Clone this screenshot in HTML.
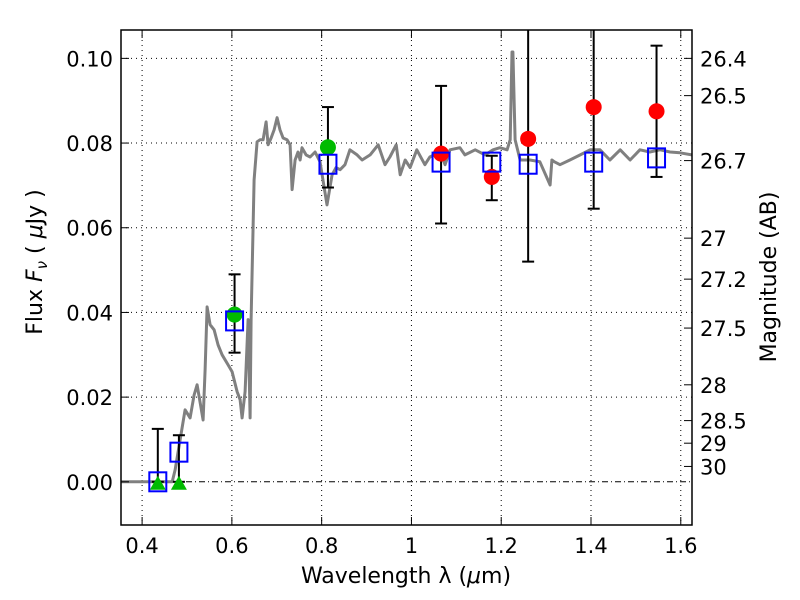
<!DOCTYPE html>
<html><head><meta charset="utf-8">
<style>
html,body{margin:0;padding:0;background:#fff;}
svg{display:block;font-family:"DejaVu Sans","Liberation Sans",sans-serif;}
</style></head>
<body>
<svg id="chart" width="800" height="600" viewBox="0 0 800 600" xmlns="http://www.w3.org/2000/svg">
<defs><clipPath id="plotclip"><rect x="121" y="30" width="571" height="495"/></clipPath></defs>
<rect x="0" y="0" width="800" height="600" fill="#fff"/>
<g id="grid"></g>
<g id="spec" clip-path="url(#plotclip)"></g>
<g id="marks" clip-path="url(#plotclip)"></g>
<g id="axes"></g>
<text x="406" y="583" font-size="22" text-anchor="middle">Wavelength  λ (<tspan font-style="italic">μ</tspan>m)</text>
<text transform="translate(42,262) rotate(-90)" font-size="22" text-anchor="middle">Flux  <tspan font-style="italic">F</tspan><tspan font-style="italic" font-size="15" dy="5">ν</tspan><tspan dy="-5">  ( </tspan><tspan font-style="italic">μ</tspan>Jy )</text>
<text transform="translate(776,277) rotate(-90)" font-size="22" text-anchor="middle">Magnitude (AB)</text>
</svg>
<script>
const xTicks = [0.4, 0.6, 0.8, 1.0, 1.2, 1.4, 1.6];
const xTickLabels = ["0.4", "0.6", "0.8", "1", "1.2", "1.4", "1.6"];
const yTicks = [0.00, 0.02, 0.04, 0.06, 0.08, 0.10];
const yTickLabels = ["0.00", "0.02", "0.04", "0.06", "0.08", "0.10"];
const magTicks = [26.4, 26.5, 26.7, 27, 27.2, 27.5, 28, 28.5, 29, 30];
const magTickLabels = ["26.4", "26.5", "26.7", "27", "27.2", "27.5", "28", "28.5", "29", "30"];

const specWave = [0.353,0.467,0.4735,0.4846,0.4958,0.5069,0.5158,0.5225,0.5359,0.5403,0.5448,0.5515,0.5604,0.5693,0.5782,0.5915,0.6004,0.6116,0.6183,0.6227,0.6294,0.6361,0.6405,0.6428,0.6494,0.6561,0.6628,0.6695,0.6762,0.6806,0.6873,0.6940,0.7007,0.7073,0.7140,0.7229,0.7296,0.7341,0.7408,0.7474,0.7519,0.7563,0.7653,0.7742,0.7853,0.7964,0.812,0.8232,0.832,0.841,0.852,0.863,0.879,0.890,0.908,0.926,0.941,0.952,0.966,0.975,0.986,0.997,1.012,1.030,1.041,1.064,1.075,1.086,1.108,1.119,1.142,1.164,1.182,1.197,1.213,1.220,1.224,1.226,1.231,1.242,1.264,1.286,1.309,1.313,1.318,1.331,1.353,1.376,1.398,1.420,1.442,1.465,1.487,1.509,1.531,1.554,1.576,1.598,1.625];
const specFlux = [0,0,0.0028,0.0099,0.017,0.0151,0.0205,0.0229,0.0146,0.0264,0.0413,0.0371,0.0359,0.0323,0.0300,0.0276,0.0260,0.0213,0.0194,0.0151,0.0213,0.0383,0.0151,0.0383,0.0713,0.0803,0.0808,0.0808,0.0850,0.0796,0.0812,0.0831,0.0860,0.0831,0.0812,0.0808,0.0796,0.0690,0.0760,0.0779,0.0760,0.0789,0.0772,0.0767,0.0779,0.0756,0.0654,0.0725,0.0742,0.0737,0.0749,0.0784,0.0772,0.0760,0.0772,0.0796,0.0749,0.0767,0.0796,0.0725,0.0760,0.0742,0.0784,0.0749,0.0767,0.0779,0.0749,0.0784,0.0789,0.0772,0.0784,0.0772,0.0784,0.0789,0.0784,0.0808,0.1015,0.1015,0.0808,0.0760,0.0760,0.0756,0.0701,0.0760,0.0756,0.0749,0.0760,0.0772,0.0784,0.0784,0.0760,0.0784,0.0760,0.0784,0.0779,0.0784,0.0779,0.0777,0.0772];

const obsWave = [0.435, 0.482, 0.606, 0.814, 1.066, 1.179, 1.260, 1.406, 1.546];
const obsFlux = [0, 0, 0.0395, 0.079, 0.0775, 0.072, 0.081, 0.0885, 0.0875];
const obsType = ["tri", "tri", "green", "green", "red", "red", "red", "red", "red"];
const errLow = [0, 0, 0.0305, 0.0695, 0.061, 0.0665, 0.052, 0.0645, 0.072];
const errHigh = [0.0125, 0.011, 0.049, 0.0885, 0.0935, 0.077, 0.12, 0.12, 0.103];
const modelFlux = [0, 0.007, 0.038, 0.075, 0.0755, 0.0755, 0.075, 0.0755, 0.0765];

const L = 121, R = 692, T = 30, B = 525;
const xMin = 0.353, xMax = 1.625, yMin = -0.0102, yMax = 0.1067;
function xs(v){ return L + (v - xMin) / (xMax - xMin) * (R - L); }
function ys(v){ return B - (v - yMin) / (yMax - yMin) * (B - T); }
function magToFlux(m){ return Math.pow(10, (23.9 - m) / 2.5); }

const NS = "http://www.w3.org/2000/svg";
function mk(tag, attrs, parent){
  const e = document.createElementNS(NS, tag);
  for (const k in attrs) e.setAttribute(k, attrs[k]);
  parent.appendChild(e);
  return e;
}
const grid = document.getElementById('grid');
const axes = document.getElementById('axes');
const spec = document.getElementById('spec');
const marks = document.getElementById('marks');

xTicks.forEach((v, i) => {
  const x = xs(v);
  const g = mk('line', {x1:x, x2:x, y1:T, y2:B, stroke:'#000', 'stroke-width':1, 'stroke-dasharray':'1,4'}, grid);
  
  
  const t1 = mk('line', {x1:x, x2:x, y1:B, y2:B-8, stroke:'#000', 'stroke-width':1}, axes);
  
  
  const t2 = mk('line', {x1:x, x2:x, y1:T, y2:T+8, stroke:'#000', 'stroke-width':1}, axes);
  
  
  const lb = mk('text', {x:x, y:B+28, 'font-size':21, 'text-anchor':'middle'}, axes);
  lb.textContent = xTickLabels[i];
  
  
});
yTicks.forEach((v, i) => {
  const y = ys(v);
  if (v !== 0) {
    const g = mk('line', {x1:L, x2:R, y1:y, y2:y, stroke:'#000', 'stroke-width':1, 'stroke-dasharray':'1,4'}, grid);
    
    
  }
  const t = mk('line', {x1:L, x2:L+8, y1:y, y2:y, stroke:'#000', 'stroke-width':1}, axes);
  
  
  const lb = mk('text', {x:L-8, y:y+8, 'font-size':21, 'text-anchor':'end'}, axes);
  lb.textContent = yTickLabels[i];
  
  
});
magTicks.forEach((m, i) => {
  const y = ys(magToFlux(m));
  const t = mk('line', {x1:R, x2:R-8, y1:y, y2:y, stroke:'#000', 'stroke-width':1}, axes);
  
  
  const lb = mk('text', {x:R+8, y:y+8, 'font-size':21, 'text-anchor':'start'}, axes);
  lb.textContent = magTickLabels[i];
  
  
});
const zl = mk('line', {x1:L, x2:R, y1:ys(0), y2:ys(0), stroke:'#000', 'stroke-width':1, 'stroke-dasharray':'6,3,1,3'}, grid);



let pts = specWave.map((w, i) => xs(w).toFixed(1) + ',' + ys(specFlux[i]).toFixed(1)).join(' ');
const pl = mk('polyline', {points:pts, fill:'none', stroke:'#808080', 'stroke-width':3, 'stroke-linejoin':'round'}, spec);



obsWave.forEach((w, i) => {
  const x = xs(w);
  const eb = mk('line', {x1:x, x2:x, y1:ys(errLow[i]), y2:ys(errHigh[i]), stroke:'#000', 'stroke-width':2}, marks);
  
  
  const c1 = mk('line', {x1:x-6, x2:x+6, y1:ys(errLow[i]), y2:ys(errLow[i]), stroke:'#000', 'stroke-width':2}, marks);
  
  
  const c2 = mk('line', {x1:x-6, x2:x+6, y1:ys(errHigh[i]), y2:ys(errHigh[i]), stroke:'#000', 'stroke-width':2}, marks);
  
  
});
obsWave.forEach((w, i) => {
  const x = xs(w), y = ys(obsFlux[i]);
  let m;
  if (obsType[i] === 'tri') {
    m = mk('polygon', {points:`${x-8},${y+8} ${x+8},${y+8} ${x},${y-6}`, fill:'#00bb00'}, marks);
    
  } else {
    m = mk('circle', {cx:x, cy:y, r:8, fill: obsType[i] === 'green' ? '#00bb00' : '#ff0000'}, marks);
    
  }
  
});
obsWave.forEach((w, i) => {
  const x = xs(w), y = ys(modelFlux[i]);
  const s = mk('rect', {x:x-8.5, y:y-9.5, width:17, height:19, fill:'none', stroke:'#0000ff', 'stroke-width':2}, marks);
  
  
});
const fr = mk('rect', {x:L, y:T, width:R-L, height:B-T, fill:'none', stroke:'#000', 'stroke-width':1.5}, axes);


</script>
</body></html>
